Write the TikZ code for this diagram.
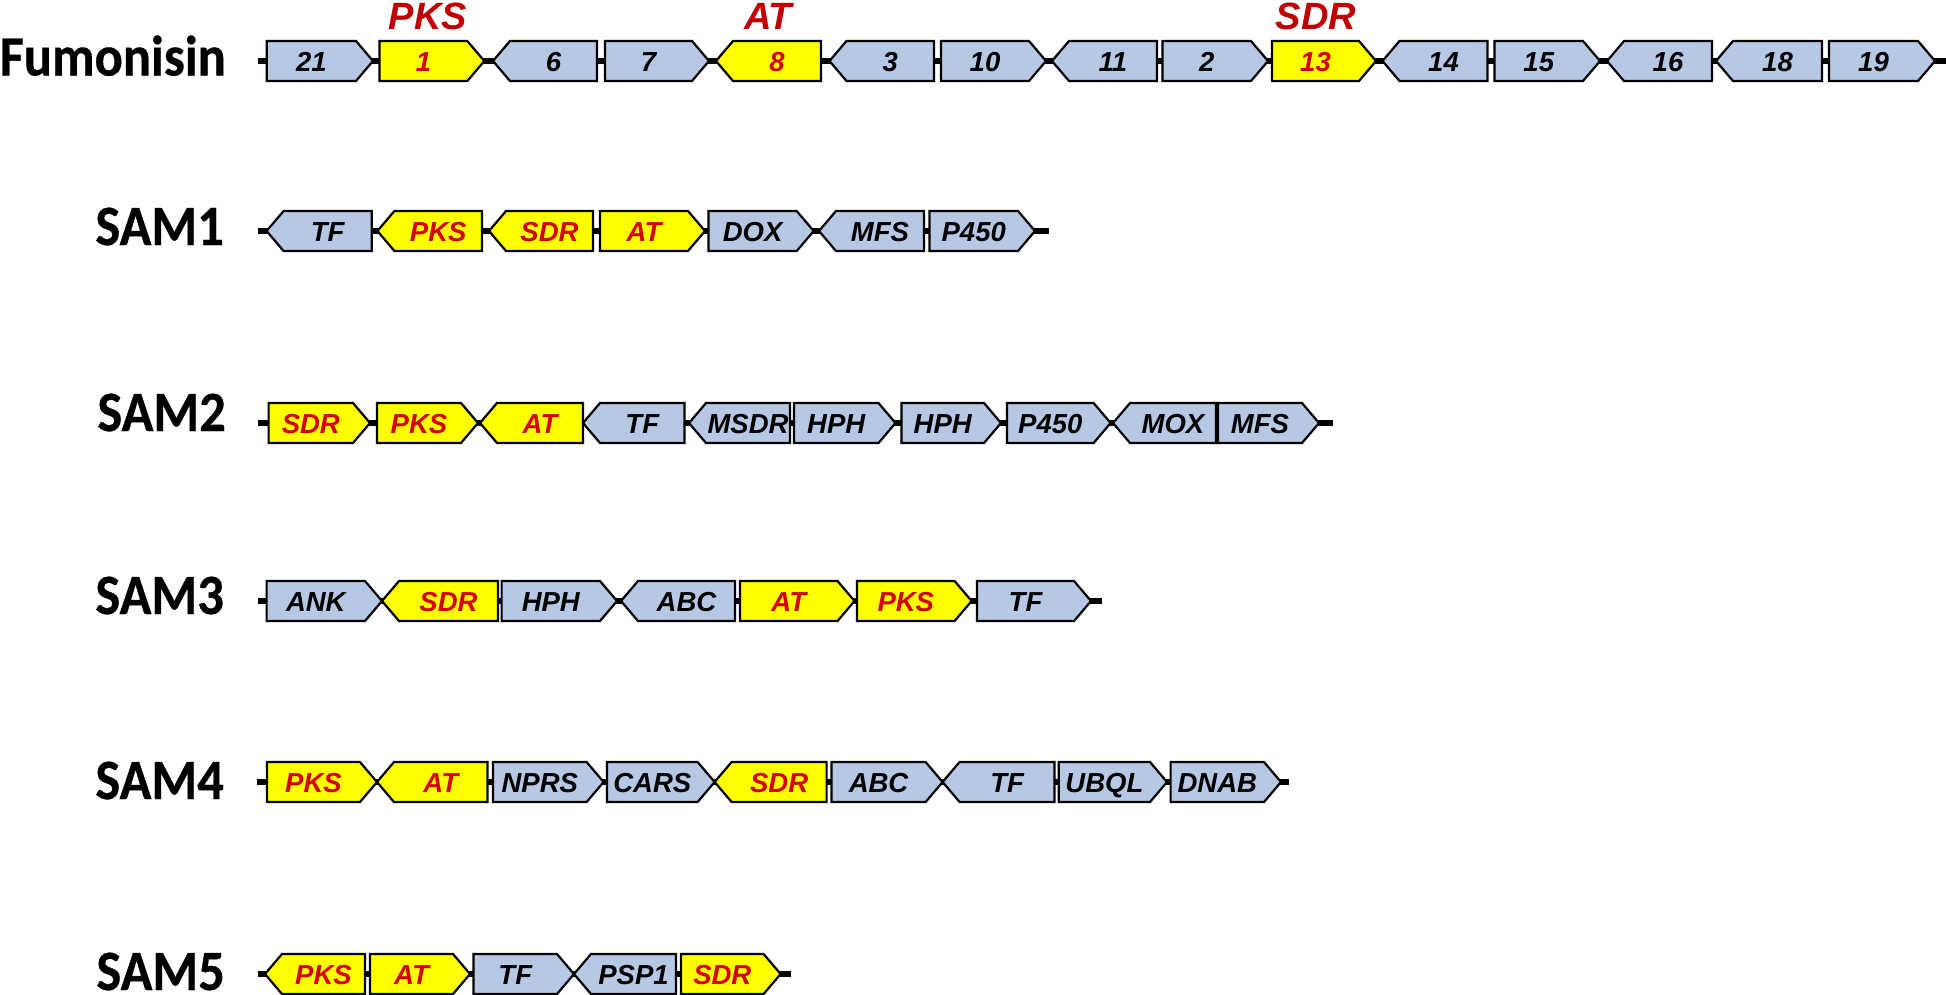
\documentclass[tikz,border=0pt]{standalone}
\usepackage{fontspec}
\setmainfont{Liberation Sans}
\newfontfamily\rowfont[FakeStretch=0.92,FakeBold=0.6]{Carlito}
\definecolor{geneblue}{RGB}{183,200,228}
\definecolor{geneyel}{RGB}{255,255,0}
\definecolor{labred}{RGB}{192,0,0}
\definecolor{txtred}{RGB}{210,0,0}
\tikzset{
  blu/.style={draw=black, line width=2.2pt, fill=geneblue, line join=miter},
  yel/.style={draw=black, line width=2.2pt, fill=geneyel, line join=miter},
  blutext/.style={font=\fontsize{27.5}{28}\selectfont\bfseries\itshape, text=black, anchor=base, inner sep=0pt},
  yeltext/.style={font=\fontsize{27.5}{28}\selectfont\bfseries\itshape, text=txtred, anchor=base, inner sep=0pt},
  backbone/.style={line width=6pt, black},
  rowlabel/.style={font=\rowfont\fontsize{57}{57}\selectfont\bfseries, anchor=base east, inner sep=0pt},
  toplabel/.style={font=\fontsize{38}{38}\selectfont\bfseries\itshape, text=labred, anchor=base, inner sep=0pt},
}
% right-pointing gene: name, left, right, y, style, label
\newcommand{\gR}[6]{%
  \draw[#5] ({#2},{#4-20}) -- ({#3-17},{#4-20}) -- ({#3},{#4}) -- ({#3-17},{#4+20}) -- ({#2},{#4+20}) -- cycle;
  \node[#5text] (#1) at ({(#2+#3-17)/2},{#4+10}) {#6};}
% left-pointing gene
\newcommand{\gL}[6]{%
  \draw[#5] ({#2},{#4}) -- ({#2+17},{#4-20}) -- ({#3},{#4-20}) -- ({#3},{#4+20}) -- ({#2+17},{#4+20}) -- cycle;
  \node[#5text] (#1) at ({(#2+17+#3)/2},{#4+10}) {#6};}
\begin{document}
\begin{tikzpicture}[x=1pt,y=-1pt]
\useasboundingbox (0,0) rectangle (1946,994);

% backbones
\draw[backbone] (258,61) -- (1950,61);
\draw[backbone] (258,231) -- (1049,231);
\draw[backbone] (258,423) -- (1333,423);
\draw[backbone] (258,601) -- (1102,601);
\draw[backbone] (257,782) -- (1289,782);
\draw[backbone] (258,974) -- (791,974);

% row labels
\node[rowlabel] (fum) at (226,75.5) {Fumonisin};
\node[rowlabel] (sam1) at (224,245) {SAM1};
\node[rowlabel] (sam2) at (226,431) {SAM2};
\node[rowlabel] (sam3) at (224,614) {SAM3};
\node[rowlabel] (sam4) at (224,799) {SAM4};
\node[rowlabel] (sam5) at (225,990) {SAM5};

% top labels
\node[toplabel] (pks) at (428,29) {PKS};
\node[toplabel] (at) at (768,29) {AT};
\node[toplabel] (sdr) at (1316,29) {SDR};

% Fumonisin
\gR{f21}{266.7}{373}{61}{blu}{21}
\gR{f1}{379.5}{484.3}{61}{yel}{1}
\gL{f6}{493}{597}{61}{blu}{6}
\gR{f7}{605}{709}{61}{blu}{7}
\gL{f8}{716}{821}{61}{yel}{8}
\gL{f3}{829.5}{934}{61}{blu}{3}
\gR{f10}{941}{1046}{61}{blu}{10}
\gL{f11}{1052}{1157}{61}{blu}{11}
\gR{f2}{1162.5}{1268}{61}{blu}{2}
\gR{f13}{1272}{1376}{61}{yel}{13}
\gL{f14}{1382.5}{1487.5}{61}{blu}{14}
\gR{f15}{1494.5}{1600}{61}{blu}{15}
\gL{f16}{1607}{1712}{61}{blu}{16}
\gL{f18}{1716}{1822}{61}{blu}{18}
\gR{f19}{1829}{1935}{61}{blu}{19}

% SAM1
\gL{a1}{266.6}{371.8}{231}{blu}{TF}
\gL{a2}{377.4}{482}{231}{yel}{PKS}
\gL{a3}{489}{593}{231}{yel}{SDR}
\gR{a4}{600}{705}{231}{yel}{AT}
\gR{a5}{708.5}{813.7}{231}{blu}{DOX}
\gL{a6}{819}{924}{231}{blu}{MFS}
\gR{a7}{929.5}{1035}{231}{blu}{P450}

% SAM2
\gR{b1}{268.6}{370}{423}{yel}{SDR}
\gR{b2}{377}{478}{423}{yel}{PKS}
\gL{b3}{480}{583}{423}{yel}{AT}
\gL{b4}{583}{684.5}{423}{blu}{TF}
\gL{b5}{689}{790}{423}{blu}{MSDR}
\gR{b6}{794}{895.5}{423}{blu}{HPH}
\gR{b7}{901.5}{1001}{423}{blu}{HPH}
\gR{b8}{1007}{1110.6}{423}{blu}{P450}
\gL{b9}{1113}{1216}{423}{blu}{MOX}
\gR{b10}{1218}{1319}{423}{blu}{MFS}

% SAM3
\gR{c1}{266.6}{382}{601}{blu}{ANK}
\gL{c2}{382}{498}{601}{yel}{SDR}
\gR{c3}{501.6}{617}{601}{blu}{HPH}
\gL{c4}{621}{735}{601}{blu}{ABC}
\gR{c5}{740}{854.5}{601}{yel}{AT}
\gR{c6}{857}{971.6}{601}{yel}{PKS}
\gR{c7}{977}{1091}{601}{blu}{TF}

% SAM4
\gR{d1}{267}{377}{782}{yel}{PKS}
\gL{d2}{377}{487.5}{782}{yel}{AT}
\gR{d3}{493}{603.6}{782}{blu}{NPRS}
\gR{d4}{607}{714.6}{782}{blu}{CARS}
\gL{d5}{714.6}{826.6}{782}{yel}{SDR}
\gR{d6}{831.5}{942.6}{782}{blu}{ABC}
\gL{d7}{942.6}{1054.5}{782}{blu}{TF}
\gR{d8}{1058.7}{1167}{782}{blu}{UBQL}
\gR{d9}{1170.6}{1281}{782}{blu}{DNAB}

% SAM5
\gL{e1}{265}{365}{974}{yel}{PKS}
\gR{e2}{370}{470}{974}{yel}{AT}
\gR{e3}{473.5}{574}{974}{blu}{TF}
\gL{e4}{574}{676}{974}{blu}{PSP1}
\gR{e5}{681}{780.6}{974}{yel}{SDR}
\end{tikzpicture}
\end{document}
